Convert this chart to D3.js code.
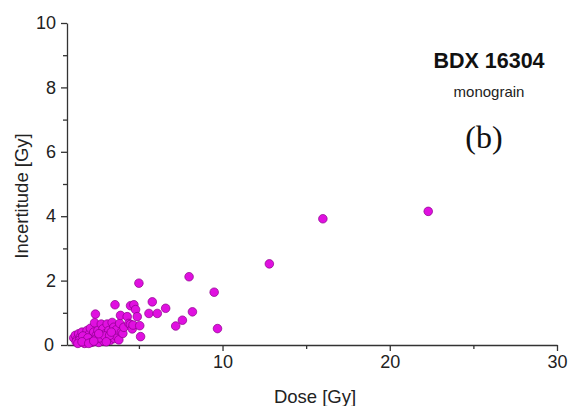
<!DOCTYPE html>
<html><head><meta charset="utf-8">
<script src="https://cdn.jsdelivr.net/npm/d3@7"></script>
<style>body{margin:0;background:#fff}svg{display:block}</style>
</head><body><div id="c"></div>
<script>
const dose = [1.1,1.2,1.3,1.4,1.5,1.55,1.6,1.7,1.8,1.85,1.9,2.0,2.05,2.1,2.2,2.25,2.3,2.35,2.4,2.45,2.5,2.55,2.6,2.7,2.75,2.8,2.85,2.9,3.0,3.1,3.15,3.2,3.3,3.4,3.45,3.5,3.55,3.6,3.65,3.8,3.85,3.9,3.95,4.04,4.1,4.3,4.4,4.5,4.49,4.6,4.65,4.7,4.8,4.9,5.0,5.05,5.1,3.57,5.6,5.8,6.1,6.6,7.2,7.6,8.0,8.2,9.5,9.7,12.8,16.0,22.3,1.25,1.45,1.65,1.75,1.95,2.15,2.4,2.65,2.95,3.25,1.35,1.6,2.0,2.3,2.6,3.05,3.35];
const uncert = [0.22,0.3,0.18,0.35,0.25,0.12,0.4,0.2,0.3,0.08,0.45,0.15,0.35,0.52,0.25,0.1,0.4,0.69,0.96,0.3,0.18,0.45,0.08,0.3,0.65,0.2,0.5,0.12,0.35,0.65,0.25,0.45,0.15,0.7,0.35,0.55,0.2,0.3,0.47,0.16,0.67,0.92,0.4,0.36,0.55,0.88,0.67,1.22,0.64,0.5,0.62,1.25,1.1,0.88,1.92,0.6,0.26,1.25,0.98,1.34,0.98,1.14,0.59,0.77,2.12,1.03,1.64,0.51,2.52,3.92,4.15,0.1,0.15,0.28,0.05,0.22,0.08,0.18,0.22,0.28,0.3,0.05,0.1,0.05,0.12,0.35,0.1,0.4];
const xTicks = [10,20,30];
const xMinor = [5,15,25];
const yTicks = [0,2,4,6,8,10];
const yMinor = [1,3,5,7,9];

const W=568,H=406;
const svg=d3.select("#c").append("svg").attr("width",W).attr("height",H);
const x=d3.scaleLinear().domain([0.7,30]).range([67,557]);
const y=d3.scaleLinear().domain([0,10]).range([345,23]);
const font="'Liberation Sans', Arial, sans-serif";

const xa=d3.axisBottom(x).tickValues(xTicks).tickSize(6).tickSizeOuter(0).tickPadding(4);
const gx=svg.append("g").attr("transform","translate(0,345)").call(xa);
svg.append("g").attr("transform","translate(0,345)").call(d3.axisBottom(x).tickValues(xMinor).tickSize(4).tickFormat("").tickSizeOuter(0)).select(".domain").remove();
const ya=d3.axisLeft(y).tickValues(yTicks).tickSize(6).tickSizeOuter(0).tickPadding(5);
const gy=svg.append("g").attr("transform","translate(67,0)").call(ya);
svg.append("g").attr("transform","translate(67,0)").call(d3.axisLeft(y).tickValues(yMinor).tickSize(4).tickFormat("").tickSizeOuter(0)).select(".domain").remove();
svg.selectAll(".domain,.tick line").attr("stroke","#333").attr("stroke-width",1.3);
svg.selectAll(".tick text").attr("font-family",font).attr("font-size",18).attr("fill","#222");
gy.selectAll(".tick").filter(d=>d===0).select("text").attr("dx",-2);

svg.append("g").selectAll("circle").data(dose.map((d,i)=>[d,uncert[i]])).join("circle")
  .attr("cx",d=>x(d[0])).attr("cy",d=>y(d[1])).attr("r",4.3)
  .attr("fill","#e010e0").attr("stroke","#8a008a").attr("stroke-width",0.7);

svg.append("text").attr("x",315).attr("y",403).attr("text-anchor","middle")
  .attr("font-family",font).attr("font-size",18.5).attr("fill","#222").text("Dose [Gy]");
svg.append("text").attr("transform","translate(28,196) rotate(-90)").attr("text-anchor","middle")
  .attr("font-family",font).attr("font-size",18.5).attr("fill","#222").text("Incertitude [Gy]");
svg.append("text").attr("x",489).attr("y",68).attr("text-anchor","middle")
  .attr("font-family",font).attr("font-size",21.5).attr("font-weight","bold").attr("fill","#111").text("BDX 16304");
svg.append("text").attr("x",489).attr("y",97).attr("text-anchor","middle")
  .attr("font-family",font).attr("font-size",15).attr("fill","#222").text("monograin");
svg.append("text").attr("x",484).attr("y",148).attr("text-anchor","middle")
  .attr("font-family","'Liberation Serif','DejaVu Serif',serif").attr("font-size",32).attr("fill","#111").text("(b)");
</script></body></html>
